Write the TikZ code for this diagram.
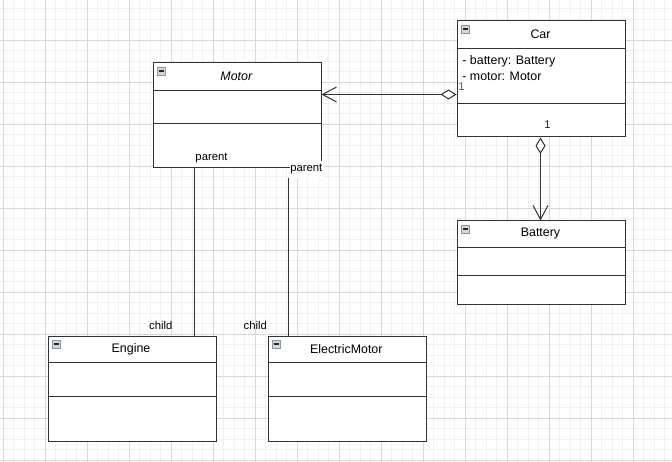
\documentclass[tikz,border=0pt]{standalone}
\usepackage{fontspec}
\setmainfont{Liberation Sans}
\usetikzlibrary{arrows.meta}
\definecolor{gminor}{HTML}{F1F1F1}
\definecolor{gmajor}{HTML}{D8D8D8}
\definecolor{boxc}{HTML}{333333}
\definecolor{icb}{HTML}{8C93A0}
\definecolor{icf}{HTML}{D2D6DE}
\definecolor{oneblue}{HTML}{1A6FC4}
\definecolor{onepurple}{HTML}{3C1470}
\begin{document}
\begin{tikzpicture}[x=1bp,y=-1bp,
  cls/.style={draw=boxc, line width=1bp, fill=white, inner sep=0pt, anchor=north west},
  div/.style={draw=boxc, line width=1bp},
  ttl/.style={font=\fontsize{12.4bp}{14bp}\selectfont, inner sep=0pt, anchor=center},
  attr/.style={font=\fontsize{12.4bp}{14bp}\selectfont, inner sep=0pt, anchor=west},
  lbl/.style={font=\fontsize{11.3bp}{13bp}\selectfont, inner sep=0pt, anchor=center},
  conn/.style={draw=boxc, line width=1bp},
  icon/.style={draw=icb, fill=icf, line width=0.8bp, minimum size=8bp, inner sep=0pt,
    path picture={\draw[line width=1.6bp, black!85]
      ([xshift=1.5bp]path picture bounding box.west) -- ([xshift=-1.5bp]path picture bounding box.east);}},
  gmin/.style={draw=gminor, line width=1bp},
  gmaj/.style={draw=gmajor, line width=1bp}
]
\useasboundingbox (0,0) rectangle (672,462);
\fill[white] (0,0) rectangle (672,462);
% grid
\begin{scope}
\clip (0,0) rectangle (672,462);
\foreach \i in {0,...,63} { \draw[gmin] ({3.3+10.5*\i},0) -- ({3.3+10.5*\i},462); }
\foreach \i in {1,...,44} { \draw[gmin] (0,{-1.7+10.5*\i}) -- (672,{-1.7+10.5*\i}); }
\foreach \i in {0,...,15} { \draw[gmaj] ({3.3+42*\i},0) -- ({3.3+42*\i},462); }
\foreach \i in {0,...,10} { \draw[gmaj] (0,{40.3+42*\i}) -- (672,{40.3+42*\i}); }
\end{scope}

% classes
\node[cls, minimum width=168bp, minimum height=116bp] (car) at (456.5,20.5) {};
\node[cls, minimum width=168bp, minimum height=105bp] (motor) at (152.5,62.5) {};
\node[cls, minimum width=168bp, minimum height=83bp] (battery) at (456.5,220.5) {};
\node[cls, minimum width=168bp, minimum height=105bp] (engine) at (47.5,335.5) {};
\node[cls, minimum width=158bp, minimum height=105bp] (emotor) at (267.5,335.5) {};

% dividers
\draw[div] (car.west |- 0,48.5) -- (car.east |- 0,48.5);
\draw[div] (car.west |- 0,103.5) -- (car.east |- 0,103.5);
\draw[div] (motor.west |- 0,90.5) -- (motor.east |- 0,90.5);
\draw[div] (motor.west |- 0,123.5) -- (motor.east |- 0,123.5);
\draw[div] (battery.west |- 0,247.5) -- (battery.east |- 0,247.5);
\draw[div] (battery.west |- 0,275.5) -- (battery.east |- 0,275.5);
\draw[div] (engine.west |- 0,362.5) -- (engine.east |- 0,362.5);
\draw[div] (engine.west |- 0,396.5) -- (engine.east |- 0,396.5);
\draw[div] (emotor.west |- 0,362.5) -- (emotor.east |- 0,362.5);
\draw[div] (emotor.west |- 0,396.5) -- (emotor.east |- 0,396.5);

% collapse icons
\node[icon] (icar) at ([shift={(8.5,8.5)}]car.north west) {};
\node[icon] (imotor) at ([shift={(8.5,8.5)}]motor.north west) {};
\node[icon] (ibattery) at ([shift={(8.5,8.5)}]battery.north west) {};
\node[icon] (iengine) at ([shift={(8.5,8.5)}]engine.north west) {};
\node[icon] (iemotor) at ([shift={(8.5,8.5)}]emotor.north west) {};

% titles
\node[ttl] (tcar) at (540.5,34.5) {Car};
\node[ttl, font=\fontsize{12.4bp}{14bp}\selectfont\itshape] (tmotor) at (236.3,76.3) {Motor};
\node[ttl] (tbattery) at (540.5,233.6) {Battery};
\node[ttl] (tengine) at (131,349.2) {Engine};
\node[ttl] (temotor) at (346.3,349.2) {ElectricMotor};

% attributes
\node[attr] (a1) at (462.2,61.3) {- battery: Battery};
\node[attr] (a2) at (462.2,76.3) {- motor: Motor};

% aggregation Car -> Motor
\draw[conn, {Diamond[length=16bp,width=10bp,fill=white]}-{Straight Barb[length=14bp,width=15bp]}]
  (car.west |- 0,94.5) -- (motor.east |- 0,94.5);
\node[lbl, text=oneblue] (m1) at (461.6,86.8) {1};

% aggregation Car -> Battery
\draw[conn, {Diamond[length=16.5bp,width=10bp,fill=white]}-{Straight Barb[length=14bp,width=15bp]}]
  (car.south -| 540.5,0) -- (battery.north -| 540.5,0);
\node[lbl, text=onepurple] (m2) at (547.5,124.5) {1};

% Motor - Engine
\draw[conn] (motor.south -| 194.5,0) -- (engine.north -| 194.5,0);
\node[lbl] (p1) at (211.5,157.6) {parent};
\node[lbl] (c1) at (160.8,325.3) {child};

% Motor - ElectricMotor
\node[lbl, fill=white, minimum width=33.5bp, minimum height=17bp] (p2) at (306.3,169.5) {parent};
\draw[conn] (p2.south -| 288.5,0) -- (emotor.north -| 288.5,0);
\node[lbl] (c2) at (255.3,325.3) {child};
\end{tikzpicture}
\end{document}
